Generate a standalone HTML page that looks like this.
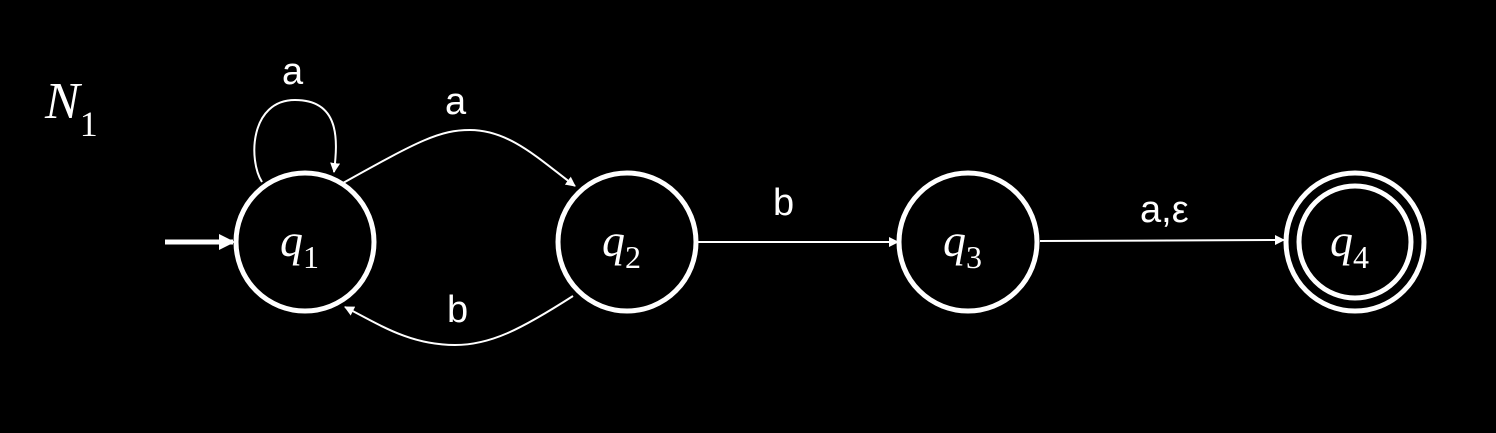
<!DOCTYPE html>
<html><head><meta charset="utf-8"><style>
html,body{margin:0;padding:0;background:#000;}
svg{display:block;}
.lbl{font-family:"Liberation Sans",sans-serif;font-size:38px;fill:#fff;}
.st{font-family:"Liberation Serif",serif;font-style:italic;font-size:46px;fill:#fff;}
.sub{font-family:"Liberation Serif",serif;font-size:32px;fill:#fff;font-style:normal;}
</style></head><body>
<svg width="1496" height="433" viewBox="0 0 1496 433">
<defs>
<marker id="ah" markerWidth="10" markerHeight="10" refX="9" refY="5" orient="auto" markerUnits="userSpaceOnUse">
<path d="M0,0 L10,5 L0,10 z" fill="#fff"/></marker>
<marker id="ahb" markerWidth="16" markerHeight="16" refX="14" refY="8" orient="auto" markerUnits="userSpaceOnUse">
<path d="M0,0 L16,8 L0,16 z" fill="#fff"/></marker>
</defs>
<text x="45" y="118" class="st" style="font-size:52px">N<tspan class="sub" dy="18" style="font-size:36px">1</tspan></text>

<line x1="165" y1="242" x2="233" y2="242" stroke="#fff" stroke-width="5" marker-end="url(#ahb)"/>

<g>
<circle cx="305" cy="242" r="69" fill="none" stroke="#fff" stroke-width="5"/>
<text x="280" y="256" class="st">q<tspan class="sub" dy="12">1</tspan></text></g>
<g>
<circle cx="627" cy="242" r="69" fill="none" stroke="#fff" stroke-width="5"/>
<text x="602" y="256" class="st">q<tspan class="sub" dy="12">2</tspan></text></g>
<g>
<circle cx="968" cy="242" r="69" fill="none" stroke="#fff" stroke-width="5"/>
<text x="943" y="256" class="st">q<tspan class="sub" dy="12">3</tspan></text></g>
<g>
<circle cx="1355" cy="242" r="69" fill="none" stroke="#fff" stroke-width="5"/>
<circle cx="1355" cy="242" r="56" fill="none" stroke="#fff" stroke-width="5"/>
<text x="1330" y="256" class="st">q<tspan class="sub" dy="12">4</tspan></text></g>

<path d="M262,182 C248,160 250,100 295,100 C340,100 338,140 334,172" fill="none" stroke="#fff" stroke-width="2" marker-end="url(#ah)"/>
<text x="282" y="84" class="lbl">a</text>

<path d="M343,183 C420,140 440,130 470,130 C510,130 540,160 575,186" fill="none" stroke="#fff" stroke-width="2" marker-end="url(#ah)"/>
<text x="445" y="114" class="lbl">a</text>

<path d="M573,296 C520,330 490,345 455,345 C410,345 380,325 345,307" fill="none" stroke="#fff" stroke-width="2" marker-end="url(#ah)"/>
<text x="447" y="322" class="lbl">b</text>

<line x1="697" y1="242" x2="898" y2="242" stroke="#fff" stroke-width="2" marker-end="url(#ah)"/>
<text x="773" y="215" class="lbl">b</text>

<line x1="1040" y1="241" x2="1284" y2="240" stroke="#fff" stroke-width="2" marker-end="url(#ah)"/>
<text x="1140" y="222" class="lbl">a,ε</text>
</svg>
</body></html>
